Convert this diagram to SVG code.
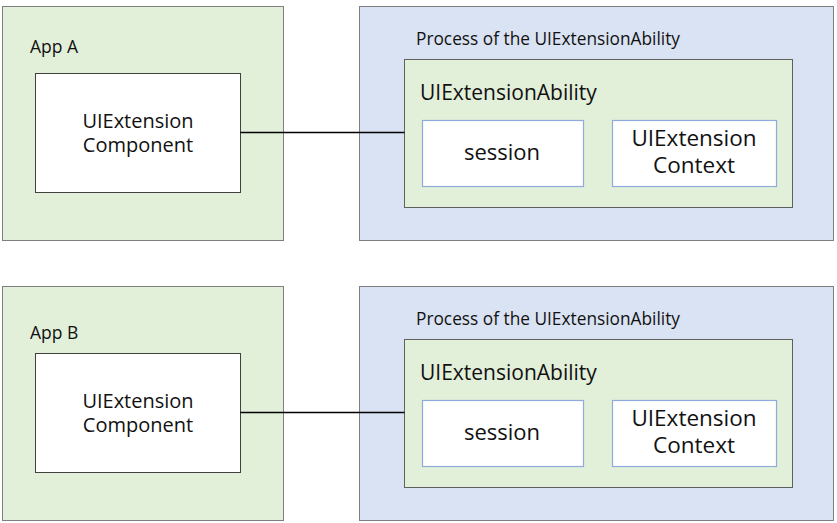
<svg xmlns="http://www.w3.org/2000/svg" width="837" height="523" viewBox="0 0 837 523">
<style>
text{font-family:"Open Sans","Noto Sans","Liberation Sans",sans-serif;fill:#111}
.app{fill:#e2efd9;stroke:#7f7f7f;stroke-width:1}
.proc{fill:#dae3f3;stroke:#7f7f7f;stroke-width:1}
.abil{fill:#e2efd9;stroke:#606060;stroke-width:1}
.comp{fill:#fff;stroke:#404040;stroke-width:1}
.inner{fill:#fff;stroke:#8faadc;stroke-width:1.2}
.c{text-anchor:middle}
</style>
<rect width="837" height="523" fill="#fff"/>
<g id="appA"><rect class="app" x="2.5" y="6.5" width="281" height="234"/><text x="30" y="53" font-size="17.5">App A</text></g>
<g id="compA"><rect class="comp" x="35.5" y="73.5" width="205" height="119"/><text class="c" x="138" y="128" font-size="20">UIExtension</text><text class="c" x="138" y="152" font-size="20">Component</text></g>
<g id="procA"><rect class="proc" x="359.5" y="6.5" width="474" height="234"/><text x="416" y="45" font-size="17.3">Process of the UIExtensionAbility</text></g>
<g id="abilA"><rect class="abil" x="404.5" y="59.5" width="388" height="148"/><text x="420" y="100" font-size="21">UIExtensionAbility</text></g>
<g id="sessA"><rect class="inner" x="422.5" y="120.5" width="161" height="66"/><text class="c" x="502" y="160" font-size="22">session</text></g>
<g id="ctxA"><rect class="inner" x="612.5" y="120.5" width="164" height="66"/><text class="c" x="694" y="146" font-size="22.5">UIExtension</text><text class="c" x="694" y="173" font-size="22.5">Context</text></g>
<g id="appB"><rect class="app" x="2.5" y="286.5" width="281" height="234"/><text x="30" y="339" font-size="17.5">App B</text></g>
<g id="compB"><rect class="comp" x="35.5" y="353.5" width="205" height="119"/><text class="c" x="138" y="408" font-size="20">UIExtension</text><text class="c" x="138" y="432" font-size="20">Component</text></g>
<g id="procB"><rect class="proc" x="359.5" y="286.5" width="474" height="234"/><text x="416" y="325" font-size="17.3">Process of the UIExtensionAbility</text></g>
<g id="abilB"><rect class="abil" x="404.5" y="339.5" width="388" height="148"/><text x="420" y="380" font-size="21">UIExtensionAbility</text></g>
<g id="sessB"><rect class="inner" x="422.5" y="400.5" width="161" height="66"/><text class="c" x="502" y="440" font-size="22">session</text></g>
<g id="ctxB"><rect class="inner" x="612.5" y="400.5" width="164" height="66"/><text class="c" x="694" y="426" font-size="22.5">UIExtension</text><text class="c" x="694" y="453" font-size="22.5">Context</text></g>
<g id="connectors" stroke="#000" stroke-width="1.3">
<line x1="240.5" y1="132.5" x2="404.5" y2="132.5"/>
<line x1="240.5" y1="412.5" x2="404.5" y2="412.5"/>
</g>
</svg>
